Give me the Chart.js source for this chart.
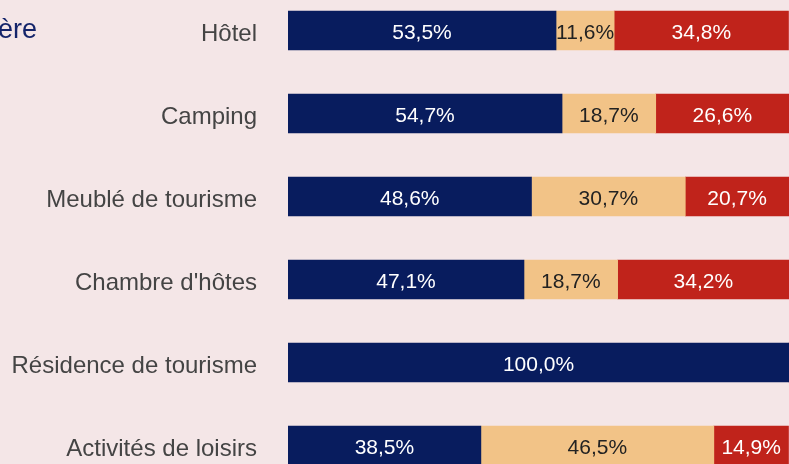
<!DOCTYPE html>
<html>
<head>
<meta charset="utf-8">
<script src="https://cdn.jsdelivr.net/npm/chart.js@4.4.0/dist/chart.umd.min.js"></script>
<style>
  html, body { margin: 0; padding: 0; background: #F4E6E7; overflow: hidden; }
  #myChart { position: absolute; left: 0; top: -11px; }
</style>
</head>
<body>
<canvas id="myChart" width="789" height="498"></canvas>
<script>
let categories = ['Hôtel', 'Camping', 'Meublé de tourisme', "Chambre d'hôtes", 'Résidence de tourisme', 'Activités de loisirs'];
let hausse = [53.5, 54.7, 48.6, 47.1, 100.0, 38.5];
let stable = [11.6, 18.7, 30.7, 18.7, 0, 46.5];
let baisse = [34.8, 26.6, 20.7, 34.2, 0, 14.9];
let titleText = 'ère';

const FONT = '"Liberation Sans", Arial, sans-serif';

// draws the value inside each bar segment
const barLabels = {
    id: 'barLabels',
    afterDatasetsDraw(chart) {
        const ctx = chart.ctx;
        ctx.save();
        ctx.font = '21px ' + FONT;
        ctx.textAlign = 'center';
        ctx.textBaseline = 'middle';
        chart.data.datasets.forEach((ds, i) => {
            chart.getDatasetMeta(i).data.forEach((bar, j) => {
                let v = ds.data[j];
                if (!v) return;
                let mid = (bar.x + bar.base) / 2;
                ctx.fillStyle = ds.labelColor;
                ctx.fillText(v.toFixed(1).replace('.', ',') + '%', mid, bar.y + 2.5);
            });
        });
        ctx.restore();
    }
};

// title cut by the left edge
const cutTitle = {
    id: 'cutTitle',
    afterDraw(chart) {
        const ctx = chart.ctx;
        ctx.save();
        ctx.font = '27px ' + FONT;
        ctx.fillStyle = '#14246A';
        ctx.textAlign = 'right';
        ctx.textBaseline = 'alphabetic';
        ctx.fillText(titleText, 37, 49);
        ctx.restore();
    }
};

let data = {
    labels: categories,
    datasets: [
        { label: 'Hausse', data: hausse, backgroundColor: '#081C5E', labelColor: '#FFFFFF' },
        { label: 'Stable', data: stable, backgroundColor: '#F2C387', labelColor: '#222222' },
        { label: 'Baisse', data: baisse, backgroundColor: '#C0231B', labelColor: '#FFFFFF' }
    ]
};

let config = {
    type: 'bar',
    data: data,
    options: {
        indexAxis: 'y',
        responsive: false,
        animation: false,
        barThickness: 39,
        layout: { padding: 0 },
        plugins: {
            legend: { display: false },
            tooltip: { enabled: false }
        },
        scales: {
            x: {
                stacked: true,
                display: false,
                min: 0,
                max: 100
            },
            y: {
                stacked: true,
                grid: { display: false, drawTicks: false },
                border: { display: false },
                ticks: {
                    color: '#444444',
                    padding: 31,
                    labelOffset: 3.5,
                    font: { family: FONT, size: 24 }
                },
                afterFit: (scale) => {
                    scale.width = 288;
                    // tick padding would otherwise shrink the plot vertically
                    scale.paddingTop = 0;
                    scale.paddingBottom = 0;
                }
            }
        }
    },
    plugins: [barLabels, cutTitle]
};

let myChart = new Chart(document.getElementById('myChart'), config);
</script>
</body>
</html>
